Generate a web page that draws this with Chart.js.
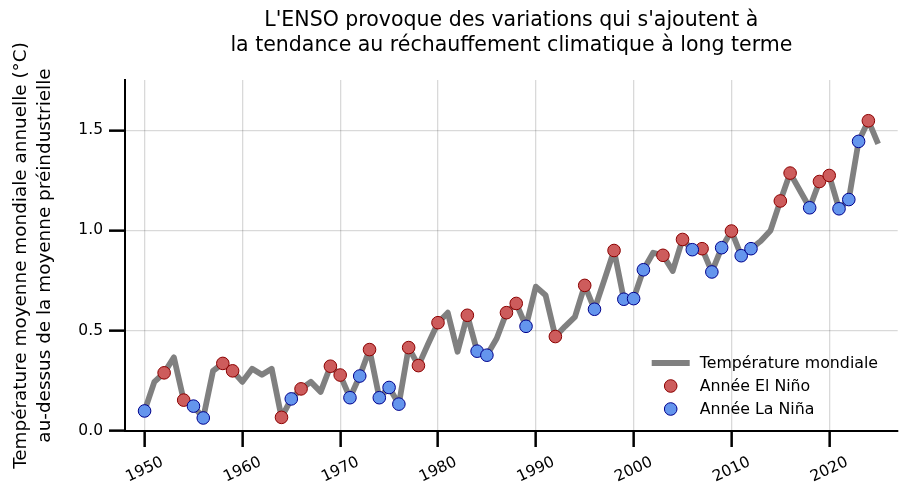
<!DOCTYPE html>
<html lang="fr">
<head>
<meta charset="UTF-8">
<title>ENSO et réchauffement</title>
<script src="https://cdn.jsdelivr.net/npm/chart.js"></script>
<style>
    html, body { margin: 0; padding: 0; background: #fff; }
    #wrap { width: 905px; height: 492px; }
</style>
</head>
<body>
<div id="wrap"><canvas id="ensoChart" width="905" height="492"></canvas></div>
<script>
// --- Data ---
const years = [1950, 1951, 1952, 1953, 1954, 1955, 1956, 1957, 1958, 1959,
    1960, 1961, 1962, 1963, 1964, 1965, 1966, 1967, 1968, 1969,
    1970, 1971, 1972, 1973, 1974, 1975, 1976, 1977, 1978, 1979,
    1980, 1981, 1982, 1983, 1984, 1985, 1986, 1987, 1988, 1989,
    1990, 1991, 1992, 1993, 1994, 1995, 1996, 1997, 1998, 1999,
    2000, 2001, 2002, 2003, 2004, 2005, 2006, 2007, 2008, 2009,
    2010, 2011, 2012, 2013, 2014, 2015, 2016, 2017, 2018, 2019,
    2020, 2021, 2022, 2023, 2024, 2025];
const temps = [0.10, 0.245, 0.29, 0.367, 0.154, 0.124, 0.065, 0.30, 0.337, 0.30,
    0.245, 0.31, 0.28, 0.31, 0.068, 0.16, 0.21, 0.245, 0.195, 0.323,
    0.279, 0.166, 0.274, 0.406, 0.166, 0.217, 0.134, 0.416, 0.326, 0.435,
    0.54, 0.59, 0.395, 0.577, 0.398, 0.378, 0.461, 0.59, 0.636, 0.522,
    0.72, 0.677, 0.471, 0.522, 0.569, 0.726, 0.607, 0.752, 0.90, 0.657,
    0.66, 0.804, 0.889, 0.876, 0.798, 0.955, 0.904, 0.909, 0.793, 0.914,
    0.997, 0.874, 0.909, 0.947, 1.0, 1.147, 1.286, 1.199, 1.113, 1.244,
    1.274, 1.108, 1.154, 1.444, 1.547, 1.431];
const elNinoYears = [1952, 1954, 1958, 1959, 1964, 1966, 1969, 1970, 1973, 1977,
    1978, 1980, 1983, 1987, 1988, 1992, 1995, 1998, 2003, 2005,
    2007, 2010, 2015, 2016, 2019, 2020, 2024];
const laNinaYears = [1950, 1955, 1956, 1965, 1971, 1972, 1974, 1975, 1976, 1984,
    1985, 1989, 1996, 1999, 2000, 2001, 2006, 2008, 2009, 2011,
    2012, 2018, 2021, 2022, 2023];
const xTicks = [1950, 1960, 1970, 1980, 1990, 2000, 2010, 2020];
const yTicks = [0.0, 0.5, 1.0, 1.5];

const titleLines = ["L'ENSO provoque des variations qui s'ajoutent à",
    "la tendance au réchauffement climatique à long terme"];
const yTitleLines = ["Température moyenne mondiale annuelle (°C)",
    "au-dessus de la moyenne préindustrielle"];

// --- Build point lists ---
const linePoints = years.map((y, i) => ({ x: y, y: temps[i] }));
const pick = list => list.map(y => ({ x: y, y: temps[years.indexOf(y)] }));

Chart.defaults.font.family = "'DejaVu Sans', sans-serif";
Chart.defaults.color = '#000';

// simple legend drawn in the lower right of the plot area
const cornerLegend = {
    id: 'cornerLegend',
    afterDraw(chart) {
        const { ctx, chartArea } = chart;
        const ds = chart.data.datasets;
        const markX = chartArea.right - 227;
        const textX = chartArea.right - 198;
        const rows = [chartArea.bottom - 68, chartArea.bottom - 45, chartArea.bottom - 22];
        ctx.save();
        ds.forEach((d, i) => {
            const y = rows[i];
            if (i === 0) {
                ctx.strokeStyle = d.borderColor;
                ctx.lineWidth = d.borderWidth;
                ctx.beginPath();
                ctx.moveTo(markX - 19, y);
                ctx.lineTo(markX + 19, y);
                ctx.stroke();
            } else {
                ctx.beginPath();
                ctx.arc(markX, y, d.pointRadius, 0, Math.PI * 2);
                ctx.fillStyle = d.backgroundColor;
                ctx.fill();
                ctx.lineWidth = d.borderWidth;
                ctx.strokeStyle = d.borderColor;
                ctx.stroke();
            }
            ctx.fillStyle = '#000';
            ctx.font = "15.8px 'DejaVu Sans'";
            ctx.textAlign = 'left';
            ctx.textBaseline = 'middle';
            ctx.fillText(d.label, textX, y + 1);
        });
        ctx.restore();
    }
};

const gridColor = 'rgba(0, 0, 0, 0.15)';

new Chart(document.getElementById('ensoChart'), {
    type: 'line',
    data: {
        datasets: [
            {
                label: 'Température mondiale',
                data: linePoints,
                borderColor: '#808080',
                borderWidth: 5.8,
                borderJoinStyle: 'round',
                pointRadius: 0,
                tension: 0,
                order: 3
            },
            {
                label: 'Année El Niño',
                type: 'scatter',
                data: pick(elNinoYears),
                backgroundColor: '#cd5c5c',
                borderColor: '#8b0000',
                borderWidth: 1,
                pointRadius: 6.3,
                showLine: false,
                order: 2
            },
            {
                label: 'Année La Niña',
                type: 'scatter',
                data: pick(laNinaYears),
                backgroundColor: '#6495ed',
                borderColor: '#00008b',
                borderWidth: 1,
                pointRadius: 6.3,
                showLine: false,
                order: 1
            }
        ]
    },
    options: {
        responsive: false,
        animation: false,
        devicePixelRatio: 1,
        layout: { padding: { left: 0, right: 7, top: 0, bottom: 0 } },
        plugins: {
            legend: { display: false },
            tooltip: { enabled: false },
            title: {
                display: true,
                fullSize: false,
                text: titleLines,
                color: '#000',
                font: { size: 20.5, weight: 'normal', lineHeight: 1.22 },
                padding: { top: 8.5, bottom: 21.5 }
            }
        },
        scales: {
            x: {
                type: 'linear',
                min: 1948,
                max: 2027,
                afterBuildTicks: s => { s.ticks = xTicks.map(v => ({ value: v })); },
                afterFit: s => { s.height = 61; },
                ticks: {
                    font: { size: 15.5 },
                    color: '#000',
                    maxRotation: 25,
                    minRotation: 25,
                    labelOffset: 18,
                    padding: 6,
                    callback: v => String(v)
                },
                grid: {
                    color: gridColor,
                    lineWidth: 1.3,
                    tickLength: 16,
                    tickWidth: 2.5,
                    tickColor: '#000'
                },
                border: { color: '#000', width: 2 }
            },
            y: {
                min: 0,
                max: 1.75,
                afterBuildTicks: s => { s.ticks = yTicks.map(v => ({ value: v })); },
                afterFit: s => { s.width = 125; },
                ticks: {
                    font: { size: 15.5 },
                    color: '#000',
                    padding: 6,
                    callback: v => v.toFixed(1)
                },
                title: {
                    display: true,
                    text: yTitleLines,
                    color: '#000',
                    font: { size: 18.4, lineHeight: 1.28 },
                    padding: { top: 9.5, bottom: 0 }
                },
                grid: {
                    color: gridColor,
                    lineWidth: 1.3,
                    tickLength: 16,
                    tickWidth: 2.5,
                    tickColor: '#000'
                },
                border: { color: '#000', width: 2 }
            }
        }
    },
    plugins: [cornerLegend]
});
</script>
</body>
</html>
